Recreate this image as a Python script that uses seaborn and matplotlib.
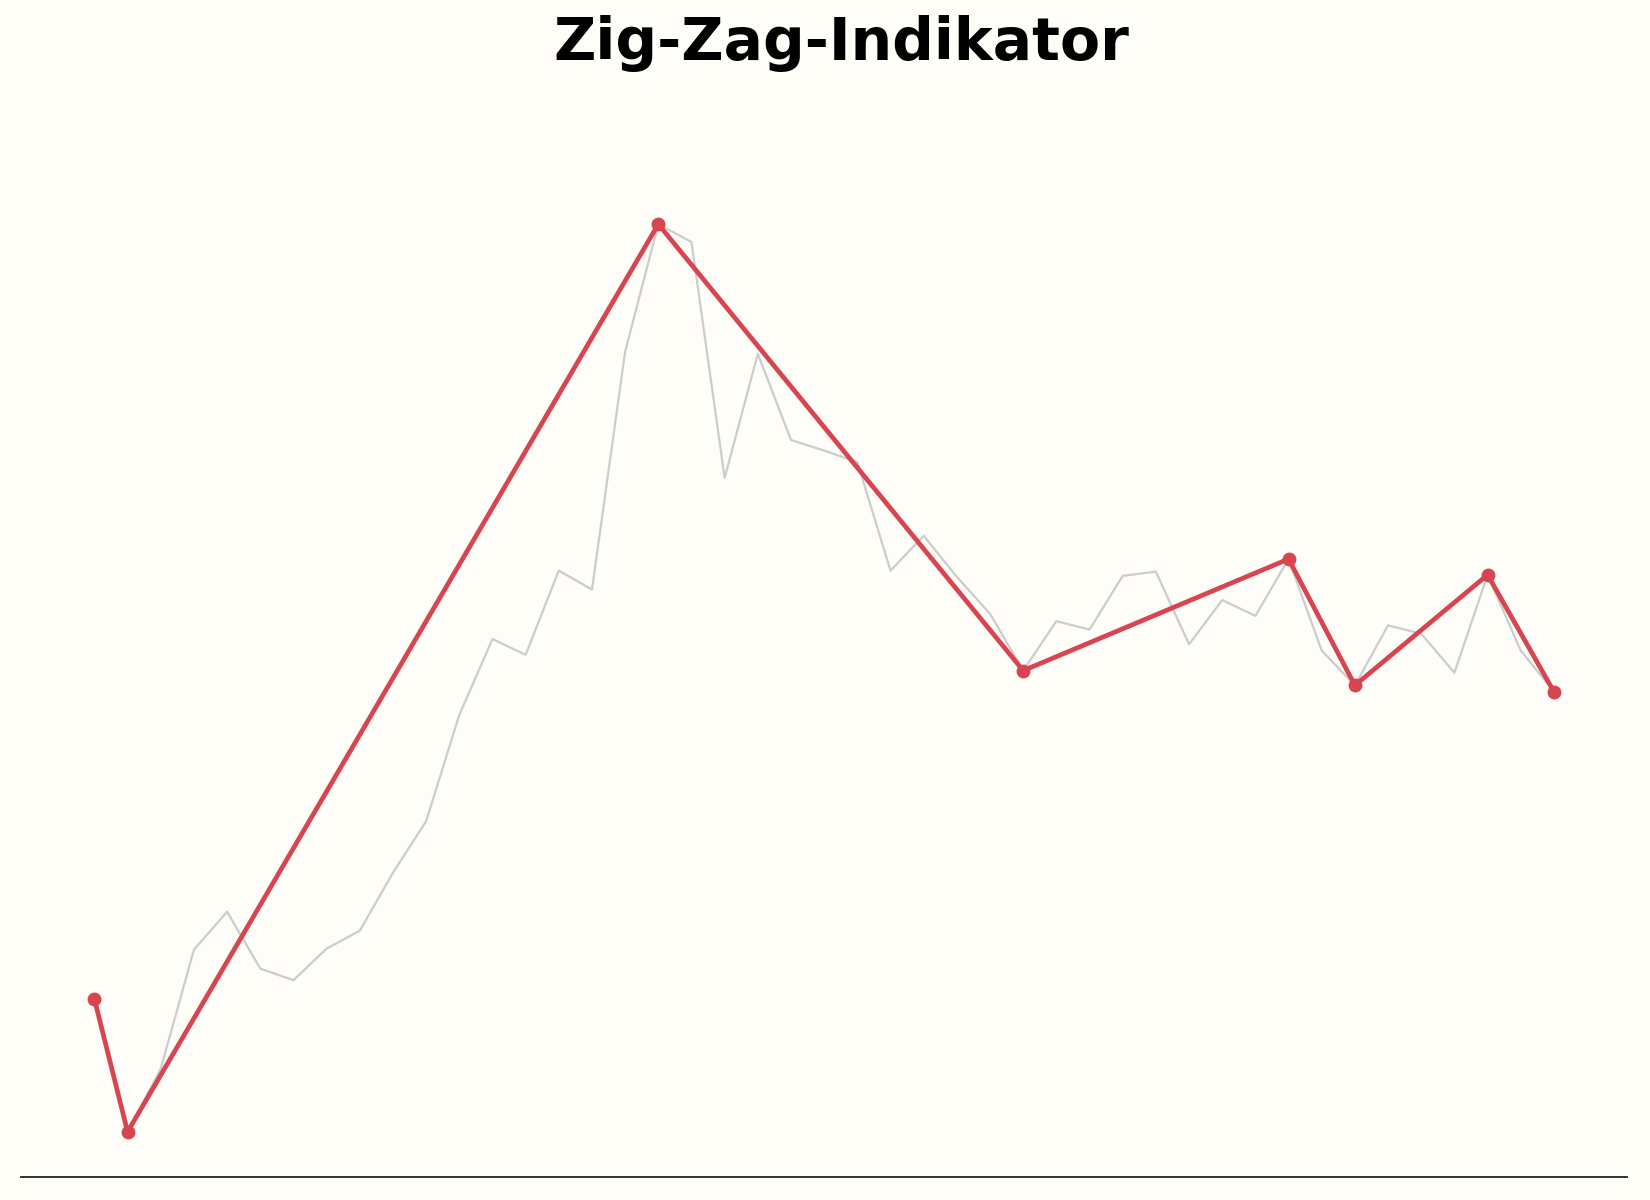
import numpy as np
import pandas as pd
import matplotlib
matplotlib.use("Agg")
import matplotlib.pyplot as plt
import seaborn as sns

# price series (arbitrary units)
price = [107.1, 94.5, 100.5, 111.8, 115.4, 110.0, 108.9, 111.9, 113.6, 119.1,
         124.0, 134.1, 141.3, 139.8, 147.8, 146.0, 168.6, 180.7, 179.0, 156.6,
         168.4, 160.2, 159.2, 158.1, 147.8, 151.1, 147.2, 143.7, 138.3, 143.0,
         142.2, 147.3, 147.7, 140.8, 145.0, 143.5, 148.9, 140.2, 136.9, 142.6,
         141.8, 138.1, 147.4, 140.2, 136.3]
# turning points of the zig-zag
pivot_idx = [0, 1, 17, 28, 36, 38, 42, 44]

title = "Zig-Zag-Indikator"
bg = "#FFFDF8"
red = "#D64550"
grey = "#CCCCCC"

df = pd.DataFrame({"t": np.arange(len(price)), "price": price})
zz = df.iloc[pivot_idx]

sns.set_style("white")
plt.rcParams["font.family"] = ["DejaVu Sans"]

fig = plt.figure(figsize=(16.5, 12), dpi=100, facecolor=bg)
ax = fig.add_axes([0.013, 0.019, 0.973, 0.832])
ax.set_facecolor(bg)

sns.lineplot(data=df, x="t", y="price", color=grey, linewidth=1.6, ax=ax)
sns.lineplot(data=zz, x="t", y="price", color=red, linewidth=3.4,
             marker="o", markersize=10, markeredgewidth=0, ax=ax)

ax.set_xticks([])
ax.set_yticks([])
ax.set_xlabel("")
ax.set_ylabel("")
for s in ["left", "right", "top"]:
    ax.spines[s].set_visible(False)
ax.spines["bottom"].set_color("#222222")
ax.spines["bottom"].set_linewidth(1.3)

fig.text(0.51, 0.964, title, ha="center", va="center",
         fontsize=42, fontweight="bold", color="black")

fig.savefig("out.png", dpi=100, facecolor=bg)
